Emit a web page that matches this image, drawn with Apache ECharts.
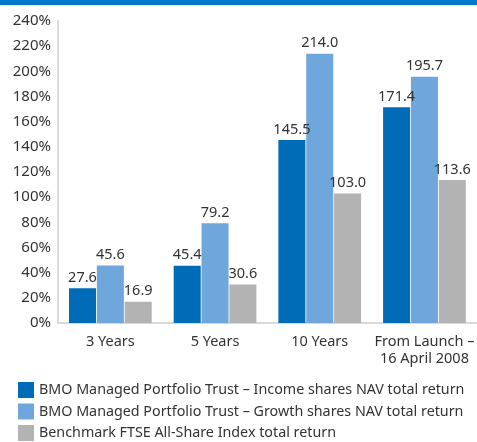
<!DOCTYPE html>
<html>
<head>
<meta charset="utf-8">
<script src="https://cdn.jsdelivr.net/npm/echarts@6/dist/echarts.min.js"></script>
<style>
  html, body { margin: 0; padding: 0; background: #fff; }
  #band { position: absolute; left: 0; top: 0; width: 477px; height: 5px; background: #0077c8; }
  #chart { width: 477px; height: 442px; }
</style>
</head>
<body>
<div id="band"></div>
<div id="chart"></div>
<script>
var categories = ["3 Years", "5 Years", "10 Years", "From Launch –\n16 April 2008"];
var incomeNav = [27.6, 45.4, 145.5, 171.4];
var growthNav = [45.6, 79.2, 214.0, 195.7];
var benchmark = [16.9, 30.6, 103.0, 113.6];
var seriesNames = [
  "BMO Managed Portfolio Trust – Income shares NAV total return",
  "BMO Managed Portfolio Trust – Growth shares NAV total return",
  "Benchmark FTSE All-Share Index total return"
];
var colors = ["#006cb7", "#6fa6dc", "#b3b3b3"];

var font = "Noto Sans";
var textColor = "#333";

function makeSeries(name, data, color) {
  return {
    name: name,
    type: "bar",
    data: data,
    barGap: "3%",
    barCategoryGap: "21%",
    itemStyle: { color: color },
    label: {
      show: true,
      position: "top",
      distance: 3,
      color: textColor,
      fontFamily: font,
      fontSize: 14.5,
      formatter: function (p) { return p.value.toFixed(1); }
    }
  };
}

window.onload = function () {
  var chart = echarts.init(document.getElementById("chart"));
  var option = {
    animation: false,
    color: colors,
    grid: { left: 58, right: -3, top: 21, bottom: 119 },
    legend: {
      orient: "vertical",
      left: 18,
      top: 382,
      height: 62,
      padding: 0,
      icon: "rect",
      itemWidth: 16,
      itemHeight: 16,
      itemGap: 5.5,
      textStyle: { color: textColor, fontFamily: font, fontSize: 14.3 },
      data: seriesNames
    },
    xAxis: {
      type: "category",
      data: categories,
      axisLine: { lineStyle: { color: "#d9d9d9", width: 2 } },
      axisTick: { show: false },
      axisLabel: { interval: 0, color: textColor, fontFamily: font, fontSize: 14.5, margin: 10, lineHeight: 17 }
    },
    yAxis: {
      type: "value",
      min: 0,
      max: 240,
      interval: 20,
      axisLine: { show: true, lineStyle: { color: "#d9d9d9", width: 2 } },
      axisTick: { show: false },
      splitLine: { show: false },
      axisLabel: { color: textColor, fontFamily: font, fontSize: 15, margin: 7, formatter: "{value}%" }
    },
    series: [
      makeSeries(seriesNames[0], incomeNav, colors[0]),
      makeSeries(seriesNames[1], growthNav, colors[1]),
      makeSeries(seriesNames[2], benchmark, colors[2])
    ]
  };
  chart.setOption(option);
};
</script>
</body>
</html>
